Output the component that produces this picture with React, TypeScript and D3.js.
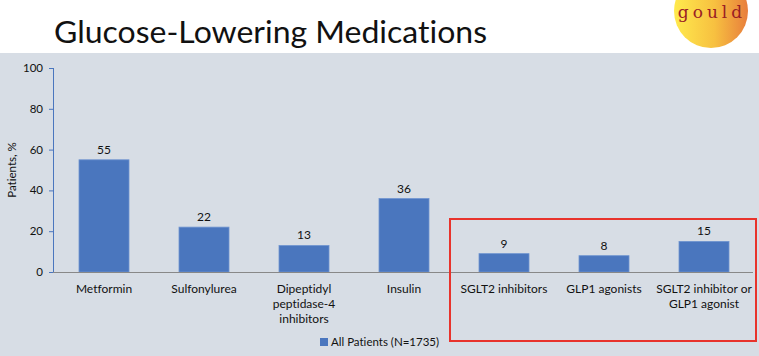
import React from "react";
import * as d3 from "d3";

const categories = [
  ["Metformin"],
  ["Sulfonylurea"],
  ["Dipeptidyl", "peptidase-4", "inhibitors"],
  ["Insulin"],
  ["SGLT2 inhibitors"],
  ["GLP1 agonists"],
  ["SGLT2 inhibitor or", "GLP1 agonist"],
];
const values = [55, 22, 13, 36, 9, 8, 15];
const yTicks = [0, 20, 40, 60, 80, 100];
const highlighted = [4, 5, 6];
const title = "Glucose-Lowering Medications";
const seriesName = "All Patients (N=1735)";
const yLabel = "Patients, %";

const W = 759;
const H = 356;
const FONT = "Lato, 'Open Sans', sans-serif";

export default function App() {
  const x = d3
    .scaleBand<number>()
    .domain(values.map((_, i) => i))
    .range([54, 754])
    .paddingInner(0.5)
    .paddingOuter(0.25);
  const y = d3.scaleLinear().domain([0, 100]).range([272, 68]);
  const barColor = "#4a76be";
  const hx0 = (x(highlighted[0]) as number) - 29;
  const hx1 = (x(highlighted[highlighted.length - 1]) as number) + x.bandwidth() + 27;

  return (
    <svg
      width={W}
      height={H}
      style={{ position: "fixed", left: 0, top: 0, display: "block", fontVariantLigatures: "none" }}
      fontFamily={FONT}
    >
      <defs>
        <linearGradient id="logoGrad" x1="0" y1="0" x2="1" y2="0">
          <stop offset="0" stopColor="#ffea4d" />
          <stop offset="0.55" stopColor="#f7c040" />
          <stop offset="1" stopColor="#e87e3c" />
        </linearGradient>
      </defs>
      <rect x={0} y={0} width={W} height={H} fill="#ffffff" />
      <rect x={0} y={53} width={W} height={H - 53} fill="#d7dde5" />
      {/* logo */}
      <circle cx={711} cy={11} r={37} fill="url(#logoGrad)" />
      <text
        x={712}
        y={18}
        textAnchor="middle"
        fontFamily="'DejaVu Serif', 'Liberation Serif', serif"
        fontSize={17}
        letterSpacing={4}
        fill="#9a2024"
      >
        gould
      </text>
      {/* title */}
      <text
        x={54}
        y={43}
        fontSize={30}
        fontWeight={400}
        fill="#111"
        textLength={433}
        lengthAdjust="spacingAndGlyphs"
      >
        {title}
      </text>
      {/* y axis */}
      <line x1={53.5} x2={53.5} y1={y(100)} y2={y(0)} stroke="#4a76be" strokeWidth={1} />
      {yTicks.map((t) => (
        <g key={t}>
          <line x1={49} x2={54} y1={y(t) + 0.5} y2={y(t) + 0.5} stroke="#4a76be" />
          <text x={43} y={y(t) + 4} textAnchor="end" fontSize={11.5} fill="#111">
            {t}
          </text>
        </g>
      ))}
      <text
        transform={`translate(16,${(y(0) + y(100)) / 2}) rotate(-90)`}
        textAnchor="middle"
        fontSize={11.5}
        fill="#111"
      >
        {yLabel}
      </text>
      {/* bars */}
      {values.map((v, i) => (
        <g key={i}>
          <rect
            x={x(i)}
            y={y(v)}
            width={x.bandwidth()}
            height={y(0) - y(v)}
            fill={barColor}
            stroke="#6f94d0"
            strokeWidth={0.8}
          />
          <text
            x={(x(i) as number) + x.bandwidth() / 2}
            y={y(v) - 6}
            textAnchor="middle"
            fontSize={12}
            fill="#111"
          >
            {v}
          </text>
          {categories[i].map((line, j) => (
            <text
              key={j}
              x={(x(i) as number) + x.bandwidth() / 2}
              y={293 + j * 15}
              textAnchor="middle"
              fontSize={12}
              fill="#111"
            >
              {line}
            </text>
          ))}
        </g>
      ))}
      {/* x baseline */}
      <line x1={53} x2={753} y1={y(0) + 0.5} y2={y(0) + 0.5} stroke="#888888" strokeWidth={1} />
      {/* highlight box */}
      <rect x={hx0} y={219} width={hx1 - hx0} height={122} fill="none" stroke="#e8332c" strokeWidth={2} />
      {/* legend */}
      <rect x={320} y={338} width={8} height={8} fill={barColor} />
      <text x={331} y={346} fontSize={11.5} fill="#111">
        {seriesName}
      </text>
    </svg>
  );
}
